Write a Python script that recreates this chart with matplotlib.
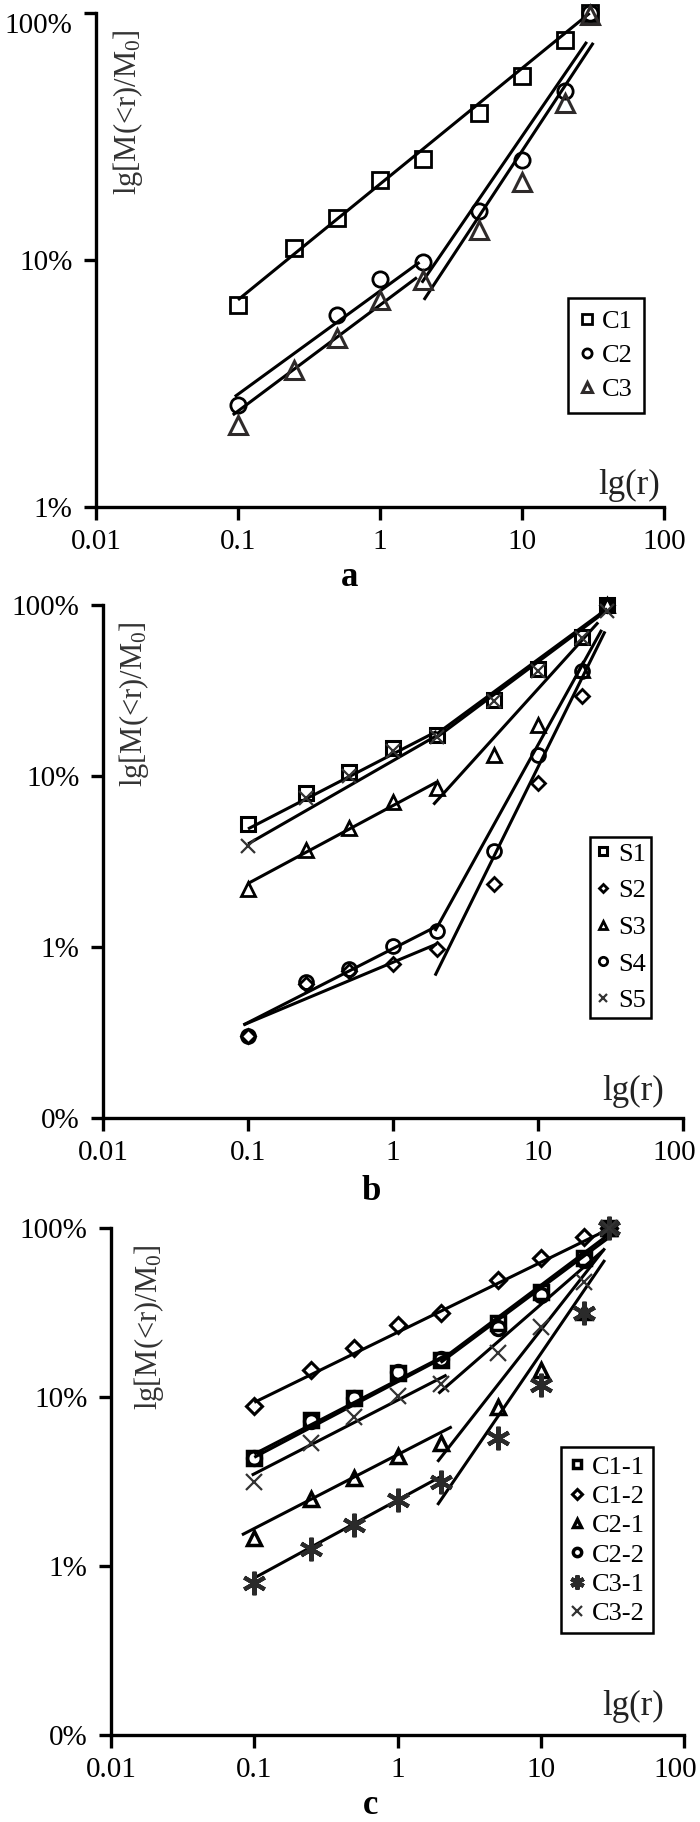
import numpy as np
import matplotlib
matplotlib.use('Agg')
import matplotlib.pyplot as plt
from matplotlib.ticker import FixedLocator, FixedFormatter, NullLocator
from matplotlib.transforms import ScaledTranslation

plt.rcParams['font.family'] = ['Liberation Serif', 'DejaVu Serif']
plt.rcParams['mathtext.fontset'] = 'custom'
plt.rcParams['mathtext.rm'] = 'Liberation Serif'
plt.rcParams['mathtext.it'] = 'Liberation Serif:italic'

nan = np.nan

# sieve sizes (x) shared by all panels
r = [0.1, 0.25, 0.5, 1, 2, 5, 10, 20, 30]
x_ticks = [0.01, 0.1, 1, 10, 100]
x_labels = ['0.01', '0.1', '1', '10', '100']

# panel a
a_names = ['C1', 'C2', 'C3']
a_c1 = [0.066, 0.112, 0.148, 0.211, 0.256, 0.394, 0.556, 0.778, 1.0]
a_c2 = [0.026, nan, 0.060, 0.084, 0.098, 0.158, 0.254, 0.483, 1.0]
a_c3 = [0.0215, 0.0359, 0.0483, 0.0689, 0.083, 0.132, 0.207, 0.432, 0.98]
a_fit_x = [[0.1, 30], [0.095, 1.9], [0.092, 1.82], [1.97, 28.6], [2.04, 31.8]]
a_fit_y = [[0.069, 1.0], [0.028, 0.098], [0.0236, 0.085], [0.081, 0.765], [0.069, 0.758]]
a_yticks = [0.01, 0.1, 1.0]
a_ylabels = ['1%', '10%', '100%']

# panel b
b_names = ['S1', 'S2', 'S3', 'S4', 'S5']
b_s1 = [0.0527, 0.080, 0.106, 0.146, 0.174, 0.279, 0.423, 0.653, 1.0]
b_s2 = [0.0030, 0.0061, 0.0072, 0.0079, 0.0097, 0.0232, 0.091, 0.292, 1.0]
b_s3 = [0.0219, 0.0371, 0.0497, 0.0705, 0.085, 0.133, 0.199, 0.418, 1.0]
b_s4 = [0.0030, 0.0062, 0.0074, 0.0101, 0.0124, 0.0363, 0.133, 0.408, 1.0]
b_s5 = [0.0388, 0.0746, 0.0995, 0.139, 0.169, 0.273, 0.408, 0.641, 0.92]
b_fit_x = [[0.1, 2.0], [2.0, 30], [0.1, 2.0], [2.0, 30], [0.1, 2.0], [1.9, 26],
           [0.093, 2.0], [0.093, 2.0], [1.95, 27.5], [1.95, 29]]
b_fit_y = [[0.049, 0.182], [0.176, 0.95], [0.040, 0.172], [0.168, 0.93], [0.0235, 0.092],
           [0.068, 0.79], [0.0035, 0.0132], [0.0035, 0.0104], [0.0124, 0.715], [0.0068, 0.70]]
b_yticks = [0.001, 0.01, 0.1, 1.0]
b_ylabels = ['0%', '1%', '10%', '100%']

# panel c
c_names = ['C1-1', 'C1-2', 'C2-1', 'C2-2', 'C3-1', 'C3-2']
c_11 = [0.0434, 0.0731, 0.099, 0.138, 0.166, 0.273, 0.420, 0.662, 1.0]
c_12 = [0.0889, 0.144, 0.194, 0.267, 0.315, 0.492, 0.662, 0.889, 1.0]
c_21 = [0.0146, 0.0251, 0.033, 0.045, 0.0532, 0.0877, 0.144, 0.320, 1.0]
c_22 = [0.0434, 0.072, 0.099, 0.140, 0.168, 0.255, 0.402, 0.647, 1.0]
c_31 = [0.0079, 0.0127, 0.0175, 0.0246, 0.0315, 0.0569, 0.118, 0.313, 1.0]
c_32 = [0.0315, 0.0537, 0.0765, 0.102, 0.120, 0.181, 0.261, 0.481, 1.0]
c_fit_x = [[0.1, 28], [0.1, 2.2], [2.0, 30], [0.1, 2.2], [2.0, 30], [0.096, 2.2],
           [1.93, 27.4], [0.082, 2.39], [1.9, 28], [0.1, 2.09], [1.9, 28]]
c_fit_y = [[0.093, 0.96], [0.046, 0.178], [0.165, 0.92], [0.044, 0.175], [0.160, 0.88],
           [0.0345, 0.135], [0.105, 0.741], [0.0153, 0.0667], [0.0414, 0.758],
           [0.0085, 0.0345], [0.023, 0.647]]
c_yticks = b_yticks
c_ylabels = b_ylabels

grey = '#333333'
ylab = r'lg[M(<r)/M$_\mathrm{0}$]'


def setup(ax, ylim, yticks, ylabels, ylab_pos, lgr_pos):
    ax.set_xscale('log')
    ax.set_yscale('log')
    ax.set_xlim(0.01, 100)
    ax.set_ylim(*ylim)
    for s in ['top', 'right']:
        ax.spines[s].set_visible(False)
    for s in ['left', 'bottom']:
        ax.spines[s].set_linewidth(2.4)
    ax.xaxis.set_major_locator(FixedLocator(x_ticks))
    ax.xaxis.set_major_formatter(FixedFormatter(x_labels))
    ax.yaxis.set_major_locator(FixedLocator(yticks))
    ax.yaxis.set_major_formatter(FixedFormatter(ylabels))
    ax.xaxis.set_minor_locator(NullLocator())
    ax.yaxis.set_minor_locator(NullLocator())
    ax.tick_params(direction='out', length=9, width=2.4, labelsize=21)
    ax.tick_params(axis='x', pad=7)
    ax.tick_params(axis='y', pad=8)
    ax.text(ylab_pos[0], ylab_pos[1], ylab, transform=ax.transAxes, rotation=90,
            ha='center', va='center', fontsize=22, color=grey)
    ax.text(lgr_pos[0], lgr_pos[1], 'lg(r)', transform=ax.transAxes,
            ha='right', va='bottom', fontsize=25, color='#222222')


def fits(ax, fx, fy):
    for xs, ys in zip(fx, fy):
        ax.plot(xs, ys, color='black', lw=2.2, solid_capstyle='butt', zorder=2)


def legend(ax, anchor, fs, spacing, pad):
    leg = ax.legend(loc='upper right', bbox_to_anchor=anchor, frameon=True, fancybox=False,
                    edgecolor='black', framealpha=1, fontsize=fs, handlelength=0.6,
                    handletextpad=0.25, labelspacing=spacing, borderpad=pad,
                    borderaxespad=0, markerscale=0.6)
    leg.get_frame().set_linewidth(1.8)


def nudge_last_xlabel(fig, ax, dx):
    lab = ax.get_xticklabels()[-1]
    lab.set_transform(lab.get_transform() + ScaledTranslation(dx, 0, fig.dpi_scale_trans))


if __name__ == '__main__':
    fig = plt.figure(figsize=(7, 18.22), dpi=100)
    ax_a = fig.add_axes([0.1371, 0.7217, 0.8114, 0.2711])
    ax_b = fig.add_axes([0.1471, 0.3864, 0.8286, 0.2816])
    ax_c = fig.add_axes([0.1586, 0.0477, 0.8186, 0.2783])

    # a
    fits(ax_a, a_fit_x, a_fit_y)
    ax_a.plot(r, a_c1, ls='none', marker='s', ms=11, mew=2, mfc='none', mec='black',
              label=a_names[0], clip_on=False)
    ax_a.plot(r, a_c2, ls='none', marker='o', ms=11, mew=2, mfc='none', mec='black',
              label=a_names[1], clip_on=False)
    ax_a.plot(r, a_c3, ls='none', marker='^', ms=13, mew=2.2, mfc='none', mec='#2e2a2a',
              label=a_names[2], clip_on=False)
    setup(ax_a, (0.01, 1.0), a_yticks, a_ylabels, (0.056, 0.80), (0.993, 0.01))
    ax_a.get_yticklabels()[-1].set_va('top')
    legend(ax_a, (0.965, 0.423), 19, 0.4, 0.44)

    # b
    fits(ax_b, b_fit_x, b_fit_y)
    ax_b.plot(r, b_s1, ls='none', marker='s', ms=10, mew=2.2, mfc='none', mec='black',
              label=b_names[0], clip_on=False)
    ax_b.plot(r, b_s2, ls='none', marker='D', ms=7.5, mew=2, mfc='none', mec='black',
              label=b_names[1], clip_on=False)
    ax_b.plot(r, b_s3, ls='none', marker='^', ms=10, mew=2, mfc='none', mec='black',
              label=b_names[2], clip_on=False)
    ax_b.plot(r, b_s4, ls='none', marker='o', ms=10, mew=2, mfc='none', mec='black',
              label=b_names[3], clip_on=False)
    ax_b.plot(r, b_s5, ls='none', marker='x', ms=10, mew=1.6, color=grey,
              label=b_names[4], clip_on=False)
    setup(ax_b, (0.001, 1.0), b_yticks, b_ylabels, (0.053, 0.807), (0.967, 0.02))
    legend(ax_b, (0.945, 0.548), 19, 0.5, 0.2)
    nudge_last_xlabel(fig, ax_b, -0.09)

    # c
    fits(ax_c, c_fit_x, c_fit_y)
    ax_c.plot(r, c_11, ls='none', marker='s', ms=10, mew=2.5, mfc='none', mec='black',
              label=c_names[0], clip_on=False)
    ax_c.plot(r, c_12, ls='none', marker='D', ms=8, mew=2.2, mfc='none', mec='black',
              label=c_names[1], clip_on=False)
    ax_c.plot(r, c_21, ls='none', marker='^', ms=10, mew=2.5, mfc='none', mec='black',
              label=c_names[2], clip_on=False)
    ax_c.plot(r, c_22, ls='none', marker='o', ms=10, mew=2.5, mfc='none', mec='black',
              label=c_names[3], clip_on=False)
    ax_c.plot(r, c_31, ls='none', marker=(6, 2, 0), ms=17, mew=3, color='#2a2a2a',
              label=c_names[4], clip_on=False)
    ax_c.plot(r, c_32, ls='none', marker='x', ms=11, mew=1.6, color=grey,
              label=c_names[5], clip_on=False)
    setup(ax_c, (0.001, 1.0), c_yticks, c_ylabels, (0.066, 0.805), (0.965, 0.024))
    legend(ax_c, (0.946, 0.568), 19, 0.22, 0.31)
    nudge_last_xlabel(fig, ax_c, -0.09)

    # panel letters
    fig.text(0.5, 1 - 577 / 1822, 'a', ha='center', va='center', fontsize=25, fontweight='bold')
    fig.text(0.53, 1 - 1192 / 1822, 'b', ha='center', va='center', fontsize=25, fontweight='bold')
    fig.text(0.529, 1 - 1806 / 1822, 'c', ha='center', va='center', fontsize=25, fontweight='bold')

    fig.savefig('out.png', dpi=100)
